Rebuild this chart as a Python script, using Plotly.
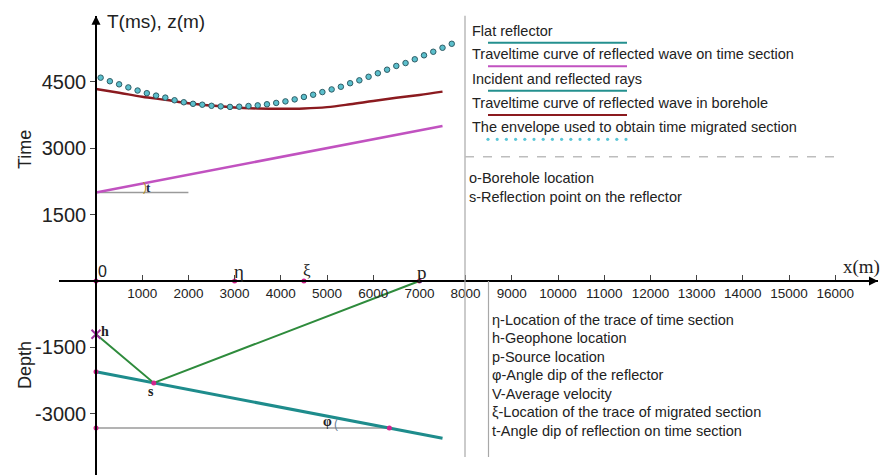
import plotly.graph_objects as go

# ---- figure size and helpers for paper-placed decorations (pixel based) ----
W, H = 887, 475


def px(x):
    return x / W


def py(y):
    return 1 - y / H


# ---- data ----
# time section: reference line for angle t and the reflected-wave traveltime line
t_ref_x = [0, 2000]
t_ref_y = [2000, 2000]
time_line_x = [0, 7500]
time_line_y = [2000, 3500]

# traveltime curve of the reflected wave in the borehole (ms)
borehole_x = [0, 500, 1000, 1500, 2000, 2500, 3000, 3500, 4000, 4500,
              5000, 5500, 6000, 6500, 7000, 7500]
borehole_t = [4335, 4250, 4160, 4090, 4015, 3960, 3915, 3895, 3888, 3895,
              3925, 3990, 4065, 4135, 4200, 4275]

# envelope used to obtain the time-migrated section (ms)
envelope_x = [100, 300, 500, 700, 900, 1100, 1300, 1500, 1700, 1900,
              2100, 2300, 2500, 2700, 2900, 3100, 3300, 3500, 3700, 3900,
              4100, 4300, 4500, 4700, 4900, 5100, 5300, 5500, 5700, 5900,
              6100, 6300, 6500, 6700, 6900, 7100, 7300, 7500, 7700]
envelope_t = [4590, 4510, 4440, 4370, 4300, 4240, 4185, 4140, 4080, 4035,
              4000, 3980, 3955, 3942, 3930, 3935, 3950, 3965, 3990, 4020,
              4055, 4100, 4155, 4205, 4265, 4325, 4385, 4465, 4530, 4610,
              4690, 4770, 4855, 4920, 5005, 5095, 5175, 5265, 5355]

# depth section: dipping reflector (m)
reflector_x = [0, 7500]
reflector_z = [-2050, -3550]
phi_ref_z = -3320

# incident and reflected rays: geophone h -> reflection point s -> source p
ray_x = [0, 1250, 7000]
ray_z = [-1200, -2300, 0]

# trace locations on the surface
eta_x = 3000
xi_x = 4500

x_ticks = [1000, 2000, 3000, 4000, 5000, 6000, 7000, 8000,
           9000, 10000, 11000, 12000, 13000, 14000, 15000, 16000]
y_ticks = [4500, 3000, 1500, -1500, -3000]

legend_items = [
    ("Flat reflector", "#24908f", "solid"),
    ("Traveltime curve of reflected wave on time section", "#c152c0", "solid"),
    ("Incident and reflected rays", "#24908f", "solid"),
    ("Traveltime curve of reflected wave in borehole", "#8b1a1f", "solid"),
    ("The envelope used to obtain time migrated section", "#5cc6d6", "dots"),
]
symbol_notes_top = ["o-Borehole location", "s-Reflection point on the reflector"]
symbol_notes_bottom = [
    "η-Location of the trace of time section",
    "h-Geophone location",
    "p-Source location",
    "φ-Angle dip of the reflector",
    "V-Average velocity",
    "ξ-Location of the trace of migrated section",
    "t-Angle dip of reflection on time section",
]

# ---- derived geometry ----
slope = (reflector_z[1] - reflector_z[0]) / (reflector_x[1] - reflector_x[0])
phi_x = (phi_ref_z - reflector_z[0]) / slope
h_pt = (ray_x[0], ray_z[0])
s_pt = (ray_x[1], ray_z[1])
p_pt = (ray_x[2], ray_z[2])

SANS = "Arial, Liberation Sans, sans-serif"
SERIF = "Times New Roman, Liberation Serif, serif"
PINK = "#d2238c"

fig = go.Figure()

fig.add_trace(go.Scatter(x=t_ref_x, y=t_ref_y, mode="lines",
                         line=dict(color="#9a9a9a", width=1.5), hoverinfo="skip"))
fig.add_trace(go.Scatter(x=time_line_x, y=time_line_y, mode="lines",
                         line=dict(color="#c152c0", width=2.5), hoverinfo="skip"))
fig.add_trace(go.Scatter(x=borehole_x, y=borehole_t, mode="lines",
                         line=dict(color="#8b1a1f", width=2.5, shape="spline"),
                         hoverinfo="skip"))
fig.add_trace(go.Scatter(x=envelope_x, y=envelope_t, mode="markers",
                         marker=dict(size=5.5, color="#5bbfcc",
                                     line=dict(color="#2f5d66", width=1)),
                         hoverinfo="skip"))
fig.add_trace(go.Scatter(x=[0, phi_x], y=[phi_ref_z, phi_ref_z], mode="lines",
                         line=dict(color="#9a9a9a", width=1.5), hoverinfo="skip"))
fig.add_trace(go.Scatter(x=reflector_x, y=reflector_z, mode="lines",
                         line=dict(color="#1e8c8c", width=3), hoverinfo="skip"))
fig.add_trace(go.Scatter(x=ray_x, y=ray_z, mode="lines",
                         line=dict(color="#2e8b3c", width=2), hoverinfo="skip"))
fig.add_trace(go.Scatter(
    x=[0, eta_x, xi_x, p_pt[0], reflector_x[0], s_pt[0], 0, phi_x],
    y=[0, 0, 0, p_pt[1], reflector_z[0], s_pt[1], phi_ref_z, phi_ref_z],
    mode="markers", marker=dict(size=5, color=PINK), hoverinfo="skip"))
fig.add_trace(go.Scatter(x=[h_pt[0]], y=[h_pt[1]], mode="markers",
                         marker=dict(symbol="x-thin", size=9,
                                     line=dict(color="#a0309f", width=2)),
                         hoverinfo="skip"))

# ---- point labels in data space ----
ann = []


def label(x, y, text, size, family=SERIF, color="#222", bold=False, xshift=0, yshift=0):
    if bold:
        text = "<b>" + text + "</b>"
    ann.append(dict(x=x, y=y, xref="x", yref="y", text=text, showarrow=False,
                    font=dict(size=size, family=family, color=color),
                    xanchor="center", yanchor="middle",
                    xshift=xshift, yshift=yshift))


label(0, 0, "0", 16, family=SANS, xshift=6, yshift=10)
label(eta_x, 0, "η", 19, xshift=4, yshift=10)
label(xi_x, 0, "ξ", 17, xshift=3, yshift=11)
label(p_pt[0], 0, "p", 19, xshift=3, yshift=9)
label(h_pt[0], h_pt[1], "h", 14, bold=True, xshift=9, yshift=3)
label(s_pt[0], s_pt[1], "s", 14, bold=True, xshift=-3, yshift=-9)
label(phi_x, phi_ref_z, "φ", 14, bold=True, xshift=-62, yshift=7)
label(phi_x, phi_ref_z, "(", 12, family=SANS, color="#6a7f99", xshift=-53, yshift=4)
label(t_ref_x[1], t_ref_y[0], "t", 13, bold=True, color="#1b2b4a", xshift=-40, yshift=5)
label(t_ref_x[1], t_ref_y[0], ")", 12, family=SANS, color="#b08a1a", xshift=-43, yshift=5)

# axis arrows
ann.append(dict(x=0, y=5989, xref="x", yref="y", text="", showarrow=True,
                ax=0, ay=14, arrowhead=2, arrowsize=1.2, arrowwidth=1.5,
                arrowcolor="black"))
ann.append(dict(x=16926, y=0, xref="x", yref="y", text="", showarrow=True,
                ax=-14, ay=0, arrowhead=2, arrowsize=1.2, arrowwidth=1.5,
                arrowcolor="black"))

# ---- paper-placed texts ----
def ptext(x, y, text, size, family=SANS, xanchor="left", angle=0, color="#222"):
    ann.append(dict(x=px(x), y=py(y), xref="paper", yref="paper", text=text,
                    showarrow=False, xanchor=xanchor, yanchor="middle",
                    textangle=angle, font=dict(size=size, family=family, color=color)))


ptext(156, 22, "T(ms), z(m)", 19, xanchor="center")
ptext(861, 267, "x(m)", 19, family=SERIF, xanchor="center")
ptext(25, 150, "Time", 18, xanchor="center", angle=-90)
ptext(25, 365, "Depth", 18, xanchor="center", angle=-90)

shapes = []
legend_text_y = [30.7, 54.5, 79, 102.5, 127]
legend_line_y = [42.7, 66.3, 90.7, 115, 139.3]
for (txt, col, kind), ty, ly in zip(legend_items, legend_text_y, legend_line_y):
    ptext(470, ty, txt, 14.5)
    if kind == "solid":
        shapes.append(dict(type="line", xref="paper", yref="paper",
                           x0=px(488), x1=px(627), y0=py(ly), y1=py(ly),
                           line=dict(color=col, width=2)))
    else:
        for k in range(16):
            cx = 488 + k * 9.2
            shapes.append(dict(type="circle", xref="paper", yref="paper",
                               x0=px(cx - 1.6), x1=px(cx + 1.6),
                               y0=py(ly - 1.6), y1=py(ly + 1.6),
                               fillcolor=col, line=dict(width=0)))

for txt, ty in zip(symbol_notes_top, [177.7, 196.7]):
    ptext(467, ty, txt, 14.5)
for i, txt in enumerate(symbol_notes_bottom):
    ptext(490, 320 + i * 18.45, txt, 14.5)

# separators
shapes.append(dict(type="line", xref="paper", yref="paper",
                   x0=px(465), x1=px(465), y0=py(15.7), y1=py(457),
                   line=dict(color="#a8a8a8", width=1.2)))
shapes.append(dict(type="line", xref="paper", yref="paper",
                   x0=px(488.5), x1=px(488.5), y0=py(281), y1=py(457),
                   line=dict(color="#a8a8a8", width=1.2)))
shapes.append(dict(type="line", xref="paper", yref="paper",
                   x0=px(465), x1=px(835), y0=py(156.7), y1=py(156.7),
                   line=dict(color="#bdbdbd", width=1.6, dash="dash")))

fig.update_layout(
    width=W, height=H, autosize=False,
    margin=dict(l=0, r=0, t=0, b=0),
    paper_bgcolor="white", plot_bgcolor="rgba(0,0,0,0)",
    showlegend=False,
    annotations=ann, shapes=shapes,
    xaxis=dict(domain=[59 / W, 878 / W], range=[-801, 16926],
               anchor="free", position=1 - 281 / H,
               showline=True, linecolor="black", linewidth=1.5,
               ticks="inside", ticklen=5, tickwidth=1, tickcolor="#444",
               tickvals=x_ticks, ticktext=[str(v) for v in x_ticks],
               tickfont=dict(size=13.5, family=SANS, color="#222"),
               showgrid=False, zeroline=False, automargin=False),
    yaxis=dict(domain=[0, 1 - 15.7 / H], range=[-4379, 5989],
               anchor="free", position=96 / W,
               showline=True, linecolor="black", linewidth=1.5,
               ticks="outside", ticklen=5, tickwidth=1, tickcolor="#444",
               tickvals=y_ticks, ticktext=[str(v) for v in y_ticks],
               tickfont=dict(size=20, family=SANS, color="#222"),
               showgrid=False, zeroline=False, automargin=False),
)

fig.write_html("out.html")
